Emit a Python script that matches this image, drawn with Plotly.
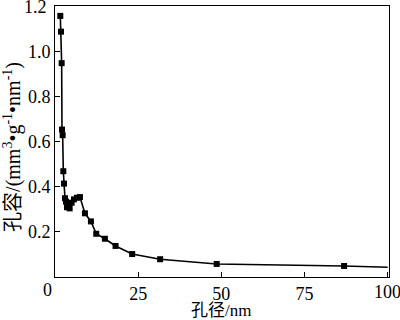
import plotly.graph_objects as go

pore_d = [1.6, 1.8, 2.0, 2.1, 2.3, 2.5, 2.7, 3.0, 3.3, 3.6, 4.0, 4.4, 5.0, 5.7, 6.6, 7.5,
          9.0, 10.8, 12.4, 15.0, 18.2, 23.2, 31.6, 48.6, 86.9]
pore_v = [1.16, 1.09, 0.95, 0.655, 0.63, 0.47, 0.415, 0.35, 0.335, 0.31, 0.325, 0.305, 0.33,
          0.345, 0.352, 0.355, 0.283, 0.247, 0.192, 0.17, 0.138, 0.102, 0.079, 0.058, 0.049]
tail_d = [86.9, 100]
tail_v = [0.049, 0.043]

x_ticks = [25, 50, 75, 100]
y_ticks = [0.2, 0.4, 0.6, 0.8, 1.0, 1.2]

font_main = "Liberation Serif, Noto Sans CJK SC, serif"

fig = go.Figure()
fig.add_trace(go.Scatter(x=tail_d, y=tail_v, mode="lines",
                         line=dict(color="black", width=1.6), showlegend=False))
fig.add_trace(go.Scatter(x=pore_d, y=pore_v, mode="lines+markers",
                         line=dict(color="black", width=1.6),
                         marker=dict(symbol="square", size=6, color="black"),
                         showlegend=False))

fig.update_layout(
    width=400, height=320,
    margin=dict(l=55, r=11, t=6, b=43),
    paper_bgcolor="white", plot_bgcolor="white",
    font=dict(family=font_main, size=18, color="black"),
    xaxis=dict(range=[0, 100.4], tickvals=x_ticks, ticktext=[str(v) for v in x_ticks],
               ticks="inside", ticklen=5, tickwidth=1, tickcolor="black",
               showline=True, linecolor="black", linewidth=1, mirror=True,
               showgrid=False, zeroline=False, automargin=False),
    yaxis=dict(range=[0, 1.204], tickvals=y_ticks, ticktext=[f"{v:.1f}" for v in y_ticks],
               ticks="inside", ticklen=5, tickwidth=1, tickcolor="black",
               showline=True, linecolor="black", linewidth=1, mirror=True,
               showgrid=False, zeroline=False, automargin=False),
)
# end tick labels that plotly drops because they overflow the page edge
fig.add_annotation(text=f"{y_ticks[-1]:.1f}", xref="paper", yref="y", x=0, y=y_ticks[-1],
                   xanchor="right", yanchor="middle", xshift=-6, showarrow=False,
                   font=dict(size=18))
fig.add_annotation(text=str(x_ticks[-1]), xref="x", yref="paper", x=x_ticks[-1], y=0,
                   xanchor="center", yanchor="top", yshift=-3, showarrow=False,
                   font=dict(size=18))
fig.add_annotation(text="0", xref="paper", yref="paper", x=0, y=0,
                   xanchor="right", yanchor="top", xshift=-1, yshift=-1,
                   showarrow=False, font=dict(size=18))
fig.add_annotation(text="孔径/nm", xref="paper", yref="paper", x=0.497, y=0,
                   xanchor="center", yanchor="middle", yshift=-33,
                   showarrow=False, font=dict(size=17))
fig.add_annotation(text="孔容/(mm<sup>3</sup>•g<sup>-1</sup>•nm<sup>-1</sup>)",
                   xref="paper", yref="paper", x=0, y=0.48, textangle=-90,
                   xanchor="center", yanchor="middle", xshift=-42,
                   showarrow=False, font=dict(size=20))

fig.write_html("out.html", config={"displayModeBar": False},
               post_script="document.body.style.margin='0';")
